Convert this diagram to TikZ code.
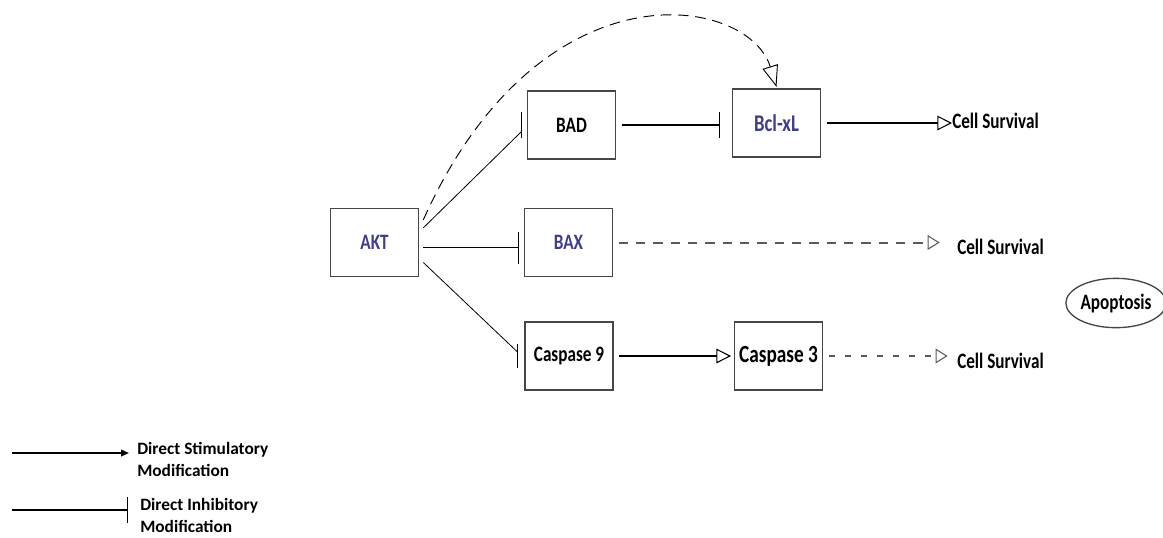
\documentclass[tikz,border=0pt]{standalone}
\usepackage{fontspec}
\setmainfont{Carlito}
\newfontfamily\lblfont{Carlito}[FakeStretch=0.78]
\usetikzlibrary{arrows.meta,shapes.geometric}
\definecolor{NodeBlue}{RGB}{62,62,140}
\definecolor{BoxGray}{RGB}{70,70,70}
\definecolor{DashGray}{RGB}{90,90,90}

\tikzset{
    protein/.style={draw=BoxGray,line width=1.2pt,minimum width=66pt,minimum height=51pt,
        inner sep=0pt,font=\lblfont\bfseries\fontsize{16.5}{18}\selectfont},
    outcome/.style={inner sep=0pt,font=\lblfont\bfseries\fontsize{16.5}{18}\selectfont},
    legendtext/.style={inner sep=0pt,align=left,font=\bfseries\fontsize{13}{16.5}\selectfont},
    stim/.style={line width=0.8pt,-{Triangle[open,length=11pt,width=11pt]}},
    inhib/.style={line width=0.6pt},
    tbar/.style={line width=0.9pt},
    indirect/.style={draw=DashGray,line width=1.5pt,dash pattern=on 7pt off 6pt,
        -{Triangle[open,length=9pt,width=11pt,line width=0.8pt]}},
}

\begin{document}
\begin{tikzpicture}[x=0.75pt,y=-0.75pt]
            \useasboundingbox (0,0) rectangle (1163,537);

            \node[protein,text=NodeBlue] (akt) at (374.5,242.5) {AKT};
            \node[protein] (bad) at (571.5,125) {BAD};
            \node[protein,text=NodeBlue,font=\lblfont\bfseries\fontsize{18}{20}\selectfont] (bcl) at (776.5,123) {Bcl-xL};
            \node[protein,text=NodeBlue] (bax) at (568.5,242.5) {BAX};
            \node[protein] (cas9) at (569,356) {Caspase 9};
            \node[protein,font=\lblfont\bfseries\fontsize{18.5}{20}\selectfont] (cas3) at (778.5,356) {Caspase 3};

            \node[outcome,anchor=west] (surv1) at (952,121) {Cell Survival};
            \node[outcome,anchor=west] (surv2) at (957,247) {Cell Survival};
            \node[outcome,anchor=west] (surv3) at (957,361) {Cell Survival};
            \node[ellipse,draw=BoxGray,line width=1pt,minimum width=69pt,minimum height=37pt,inner sep=0pt,
                font=\lblfont\bfseries\fontsize{16.5}{18}\selectfont] (apop) at (1116,303) {Apoptosis};

            \draw[inhib] ([xshift=3pt,yshift=11pt]akt.east) -- ([xshift=-4pt,yshift=-5pt]bad.west);
            \draw[tbar] ([xshift=-4pt,yshift=-10pt]bad.west) -- ([xshift=-4pt,yshift=10pt]bad.west);
            \draw[inhib,-{Bar[width=24pt]}] ([xshift=3pt,yshift=-4pt]akt.east) -- ([xshift=-4pt,yshift=-4pt]bax.west);
            \draw[inhib] ([xshift=3pt,yshift=-15pt]akt.east) -- ([xshift=-5pt,yshift=3pt]cas9.west);
            \draw[tbar] ([xshift=-5pt,yshift=-9pt]cas9.west) -- ([xshift=-5pt,yshift=9pt]cas9.west);
            \draw[dashed,line width=0.7pt,dash pattern=on 8pt off 5pt,-{Triangle[open,length=16pt,width=12pt]}]
                ([xshift=3pt,yshift=17pt]akt.east) .. controls (540,-40) and (748,-5) .. ([yshift=1pt]bcl.north);

            \draw[inhib,line width=0.8pt,-{Bar[width=19pt]},shorten <=4pt,shorten >=9pt] (bad.east) -- (bcl.west |- bad.east);
            \draw[stim,shorten <=4pt] (bcl.east) -- (bcl.east -| surv1.west);
            \draw[indirect,shorten <=4pt,shorten >=13pt] (bax.east) -- (bax.east -| surv2.west);
            \draw[stim,shorten <=4pt,shorten >=2pt] (cas9.east) -- (cas3.west);
            \draw[indirect,line width=1pt,dash pattern=on 5pt off 7pt,shorten <=4pt,shorten >=7pt] (cas3.east) -- (cas3.east -| surv3.west);

            \coordinate (stimfrom) at (12,453);
            \coordinate (inhibfrom) at (12,510);
            \node[legendtext,anchor=west] (stimtxt) at (137,459) {Direct Stimulatory\\Modification};
            \node[legendtext,anchor=west] (inhibtxt) at (140,515) {Direct Inhibitory\\Modification};
            \draw[line width=1.3pt,-{Triangle[length=6pt,width=5pt]}] (stimfrom) -- ([xshift=-6pt]stimfrom -| stimtxt.west);
            \draw[line width=0.9pt,-{Bar[width=19pt]}] (inhibfrom) -- ([xshift=-9pt]inhibfrom -| inhibtxt.west);
        \end{tikzpicture}
\end{document}
